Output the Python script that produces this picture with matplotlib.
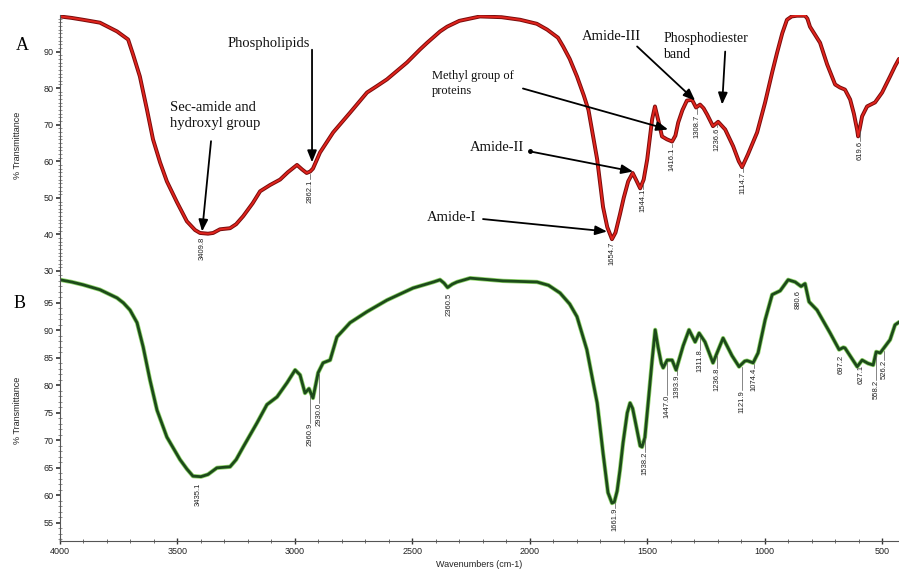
import numpy as np
import matplotlib
matplotlib.use("Agg")
import matplotlib.pyplot as plt

# ---- spectrum A (red), wavenumber / %T ----
wn_a = [4000, 3950, 3902, 3830, 3757, 3710, 3689, 3660, 3630, 3604, 3574, 3545,
        3502, 3460, 3425, 3404, 3370, 3348, 3319, 3276, 3250, 3220, 3180, 3148,
        3106, 3063, 3030, 2991, 2970, 2950, 2935, 2923, 2893, 2837, 2765, 2693,
        2650, 2608, 2523, 2467, 2437, 2382, 2352, 2300, 2212, 2120, 2041, 1970,
        1926, 1880, 1858, 1830, 1799, 1770, 1750, 1713, 1688, 1670, 1650, 1635,
        1616, 1600, 1581, 1562, 1548, 1530, 1515, 1500, 1479, 1467, 1454, 1437,
        1416, 1394, 1380, 1368, 1350, 1331, 1309, 1292, 1275, 1260, 1245, 1220,
        1198, 1168, 1134, 1110, 1096, 1071, 1032, 998, 968, 947, 925, 905, 885,
        862, 840, 828, 818, 807, 764, 734, 700, 680, 658, 636, 620, 606, 602,
        595, 585, 564, 530, 500, 466, 445, 428]
t_a = [99.6, 99.2, 98.7, 97.9, 95.5, 93.3, 89.2, 83.2, 74.2, 66.0, 59.7, 54.5,
       48.8, 43.6, 41.2, 40.4, 40.2, 40.4, 41.4, 41.7, 42.8, 45.0, 48.5, 51.8,
       53.5, 55.0, 57.0, 59.0, 57.8, 56.8, 57.2, 58.0, 62.4, 67.9, 73.3, 78.8,
       80.6, 82.4, 87.0, 90.6, 92.4, 95.5, 96.8, 98.4, 99.6, 99.4, 98.7, 97.6,
       96.0, 93.8, 91.4, 88.0, 83.2, 78.0, 74.0, 60.5, 47.5, 42.0, 38.7, 40.5,
       45.5, 50.0, 54.5, 56.8, 55.0, 52.6, 55.0, 60.5, 71.5, 75.0, 71.5, 66.8,
       66.0, 65.4, 67.0, 70.6, 74.0, 76.6, 76.8, 74.7, 75.5, 74.5, 72.8, 69.6,
       70.8, 68.7, 64.1, 60.0, 58.4, 61.9, 67.9, 76.1, 84.3, 89.7, 95.0, 98.7,
       99.6, 99.8, 99.8, 99.8, 99.0, 96.8, 92.4, 86.5, 81.0, 80.2, 79.6, 76.9,
       73.0, 68.5, 66.8, 69.0, 72.3, 75.0, 76.1, 78.8, 83.2, 86.0, 88.0]

# ---- spectrum B (green) ----
wn_b = [4000, 3950, 3902, 3830, 3757, 3730, 3702, 3672, 3646, 3617, 3587, 3545,
        3489, 3460, 3434, 3400, 3370, 3332, 3276, 3250, 3220, 3161, 3119, 3076,
        3033, 2999, 2978, 2957, 2940, 2923, 2901, 2880, 2850, 2821, 2765, 2693,
        2608, 2497, 2410, 2382, 2365, 2350, 2330, 2310, 2254, 2114, 1969, 1920,
        1871, 1830, 1799, 1757, 1730, 1713, 1701, 1688, 1667, 1650, 1640, 1628,
        1616, 1603, 1585, 1573, 1562, 1552, 1530, 1522, 1510, 1496, 1479, 1466,
        1454, 1440, 1432, 1415, 1394, 1377, 1347, 1322, 1296, 1279, 1254, 1220,
        1177, 1139, 1109, 1085, 1075, 1049, 1028, 998, 968, 934, 900, 870, 845,
        828, 811, 777, 721, 683, 665, 658, 606, 585, 560, 538, 525, 508, 466,
        445, 428]
t_b = [99.2, 98.8, 98.3, 97.4, 95.9, 95.0, 93.7, 91.4, 87.0, 81.0, 75.5, 70.6,
       66.5, 64.8, 63.5, 63.4, 63.8, 65.0, 65.2, 66.5, 68.8, 73.2, 76.5, 77.9,
       80.5, 82.8, 81.9, 78.6, 79.4, 77.7, 82.3, 84.1, 84.6, 88.8, 91.4, 93.4,
       95.5, 97.7, 98.8, 99.2, 98.6, 97.8, 98.4, 98.8, 99.5, 99.0, 98.8, 98.2,
       96.8, 94.8, 92.5, 86.5, 80.5, 76.8, 72.5, 67.7, 60.5, 58.6, 58.8, 60.8,
       64.6, 69.5, 75.0, 76.8, 75.8, 73.7, 69.0, 68.8, 70.5, 76.8, 84.6, 90.1,
       87.0, 84.0, 83.2, 84.6, 84.6, 82.8, 87.2, 90.1, 87.9, 89.5, 87.9, 84.1,
       88.6, 85.4, 83.4, 84.4, 84.5, 84.1, 85.9, 91.9, 96.5, 97.2, 99.2, 98.8,
       98.0, 98.5, 95.2, 93.7, 89.5, 86.5, 86.9, 86.8, 83.4, 84.6, 84.0, 83.7,
       86.1, 85.9, 88.3, 91.0, 91.5]

# peak labels: label text, x position (cm-1), %T at top of label
peaks_a = ["3409.8", "2862.1", "1654.7", "1544.1", "1416.1", "1308.7",
           "1236.6", "1114.7", "619.6"]
peaks_a_x = [3395, 2935, 1650, 1518, 1394, 1288, 1203, 1092, 595]
peaks_a_top = [39.3, 55.1, 37.9, 52.4, 63.8, 72.8, 69.3, 57.0, 65.5]

peaks_b = ["3435.1", "2960.9", "2930.0", "2360.5", "1661.9", "1538.2",
           "1447.0", "1393.9", "1311.8", "1236.8", "1121.9", "1074.4",
           "880.6", "697.2", "627.1", "558.2", "526.2"]
peaks_b_x = [3412, 2935, 2897, 2344, 1637, 1509, 1415, 1373, 1275, 1203,
             1096, 1045, 858, 675, 589, 525, 491]
peaks_b_top = [62.3, 73.2, 76.8, 96.8, 57.7, 67.9, 78.3, 81.9, 86.5, 83.2,
               79.2, 83.2, 97.4, 85.5, 83.7, 81.0, 84.6]

# band assignments on spectrum A: text, text anchor (left), arrow tail, arrow tip
bands = ["Phospholipids", "Sec-amide and\nhydroxyl group", "Amide-III",
         "Phosphodiester\nband", "Methyl group of\nproteins", "Amide-II", "Amide-I"]
band_txt = [(3285, 92.2), (3532, 72.5), (1777, 94.1), (1432, 91.4),
            (2416, 81.3), (2254, 63.8), (2437, 44.7)]
band_tail = [(2927, 90.5), (3357, 65.5), (1543, 91.4), (1168, 90.0),
             (2029, 79.9), (1999, 62.7), (2199, 44.2)]
band_tip = [(2927, 59.7), (3395, 40.8), (1296, 76.6), (1181, 75.5),
            (1411, 68.7), (1560, 57.2), (1671, 40.8)]
band_size = [10.5, 10.5, 10.5, 10, 9, 10.5, 10.5]

SANS = "Liberation Sans"
SERIF = "Liberation Serif"

fig = plt.figure(figsize=(8.99, 5.72), dpi=100)
W, H = 899, 572
axA = fig.add_axes([60 / W, 1 - 271 / H, 839 / W, 256 / H])
axB = fig.add_axes([60 / W, 1 - 541 / H, 839 / W, 270 / H])

axA.plot(wn_a, t_a, color="#7a0c0c", lw=2.8, solid_joinstyle="round", solid_capstyle="round")
axA.plot(wn_a, t_a, color="#e0231c", lw=1.4, solid_joinstyle="round")
axB.plot(wn_b, t_b, color="#8fd46a", lw=3.1, solid_joinstyle="round", solid_capstyle="round")
axB.plot(wn_b, t_b, color="#1c4a1a", lw=2.0, solid_joinstyle="round")

for ax in (axA, axB):
    ax.set_xlim(4000, 428)
    for s in ("top", "right"):
        ax.spines[s].set_visible(False)
    ax.spines["left"].set_color("#555555")
    ax.spines["left"].set_linewidth(0.8)
    ax.tick_params(axis="y", which="major", direction="out", length=3,
                   width=1.2, color="#333333", labelsize=6.5, labelcolor="#222222", pad=1.5)
    ax.tick_params(axis="y", which="minor", direction="inout", length=2.5,
                   width=0.5, color="#666666")

axA.set_ylim(30, 100)
axA.set_yticks(np.arange(30, 91, 10))
axA.set_yticks(np.arange(30, 100, 1), minor=True)
axA.spines["bottom"].set_visible(False)
axA.tick_params(axis="x", which="both", bottom=False, labelbottom=False)

axB.set_ylim(51.7, 100.8)
axB.set_yticks(np.arange(55, 96, 5))
axB.set_yticks(np.arange(52, 100.8, 1), minor=True)
axB.spines["bottom"].set_color("#555555")
axB.spines["bottom"].set_linewidth(0.8)
axB.set_xticks(np.arange(4000, 499, -500))
axB.set_xticks(np.arange(4000, 428, -100), minor=True)
axB.tick_params(axis="x", which="major", direction="inout", length=4, width=1,
                color="#333333", labelsize=6.5, labelcolor="#222222", pad=2)
axB.tick_params(axis="x", which="minor", direction="inout", length=2.5,
                width=0.6, color="#555555")
for ax in (axA, axB):
    for lab in ax.get_xticklabels() + ax.get_yticklabels():
        lab.set_fontfamily(SANS)
axB.set_xlabel("Wavenumbers (cm-1)", fontsize=6.5, family=SANS, color="#222222", labelpad=3)


def label_peaks(ax, wn, tr, names, xs, tops):
    for name, x, top in zip(names, xs, tops):
        cv = np.interp(x, wn[::-1], tr[::-1])
        if cv - top > 1.2:
            ax.plot([x, x], [cv - 0.6, top], color="#555555", lw=0.5)
        ax.text(x, top, name, rotation=90, ha="center", va="top",
                fontsize=5.5, family=SANS, color="#222222")


label_peaks(axA, wn_a, t_a, peaks_a, peaks_a_x, peaks_a_top)
label_peaks(axB, wn_b, t_b, peaks_b, peaks_b_x, peaks_b_top)

for name, (tx, ty), tail, tip, fs in zip(bands, band_txt, band_tail, band_tip, band_size):
    axA.text(tx, ty, name, ha="left", va="center", fontsize=fs, family=SERIF,
             linespacing=1.35, color="#111111")
    axA.annotate("", xy=tip, xytext=tail,
                 arrowprops=dict(arrowstyle="-|>,head_length=0.7,head_width=0.28",
                                 color="black", lw=1.3, shrinkA=0, shrinkB=0))
    if name == "Amide-II":
        axA.plot(*tail, "o", ms=2.5, color="black")

fig.text(22 / W, 1 - 45 / H, "A", fontsize=13, family=SERIF, ha="center", va="center")
fig.text(20 / W, 1 - 303 / H, "B", fontsize=13, family=SERIF, ha="center", va="center")
fig.text(17 / W, 1 - 145 / H, "% Transmittance", rotation=90, fontsize=6.5,
         family=SANS, ha="center", va="center", color="#222222")
fig.text(17 / W, 1 - 410 / H, "% Transmittance", rotation=90, fontsize=6.5,
         family=SANS, ha="center", va="center", color="#222222")

fig.savefig("out.png", dpi=100)
